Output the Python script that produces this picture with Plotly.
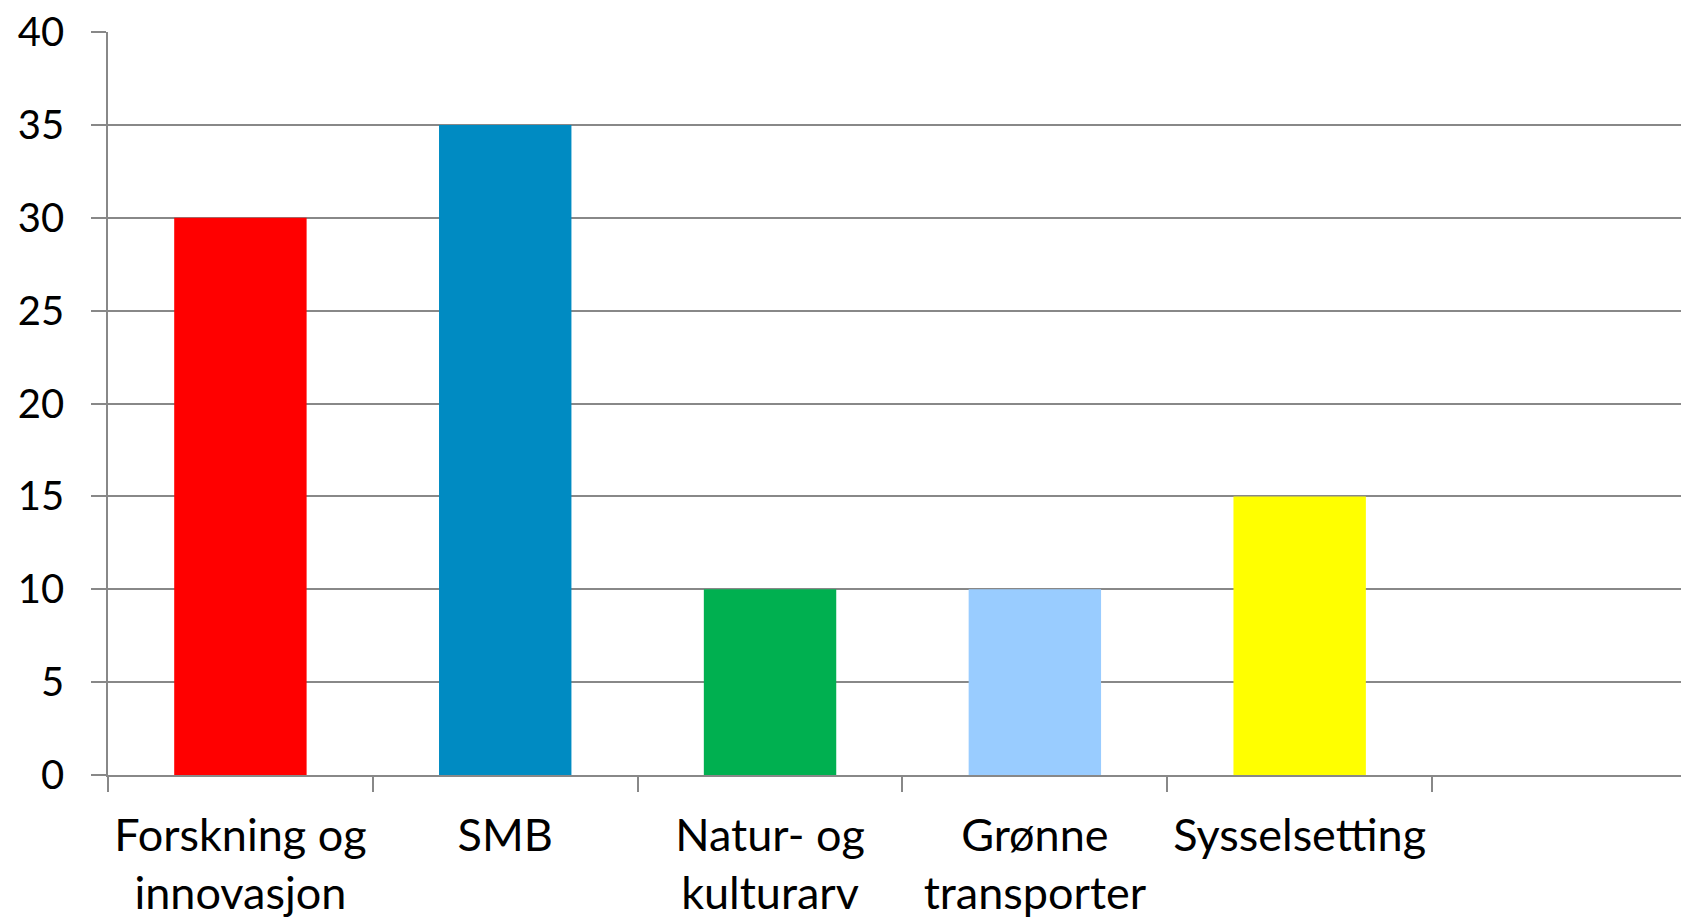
import plotly.graph_objects as go

categories = ["Forskning og<br>innovasjon", "SMB", "Natur- og<br>kulturarv", "Grønne<br>transporter", "Sysselsetting", " "]
values = [30, 35, 10, 10, 15, None]
colors = ["#FF0000", "#008BC2", "#00B050", "#99CCFF", "#FFFF00", "#FFFFFF"]
y_ticks = [0, 5, 10, 15, 20, 25, 30, 35, 40]

FONT = "Lato"
GRID = "#888888"

fig = go.Figure(go.Bar(x=categories, y=values, marker=dict(color=colors, line=dict(width=0)), width=0.5))

fig.update_layout(
    width=1681, height=919,
    margin=dict(l=108, r=0, t=32, b=144, autoexpand=False),
    paper_bgcolor="white", plot_bgcolor="white",
    showlegend=False,
    font=dict(family=FONT, color="black"),
)
fig.update_xaxes(
    type="category", range=[-0.5, 5.44], automargin=False,
    showgrid=False, showline=True, linecolor=GRID, linewidth=1.5,
    ticks="outside", ticklen=15, tickcolor=GRID, tickwidth=1.5, tickson="boundaries",
    ticklabelstandoff=20,
    tickfont=dict(size=45, family=FONT),
)
fig.update_yaxes(
    range=[0, 40], tickvals=y_ticks, automargin=False,
    showgrid=True, gridcolor=GRID, gridwidth=1.5,
    showline=True, linecolor=GRID, linewidth=1.5,
    ticks="outside", ticklen=15, tickcolor=GRID, tickwidth=1.5,
    ticklabelstandoff=19,
    tickfont=dict(size=40, family=FONT),
    zeroline=False,
)

fig.write_html(
    "out.html",
    config={"displayModeBar": False},
    post_script="document.body.style.margin='0';document.body.style.overflow='hidden';",
)
